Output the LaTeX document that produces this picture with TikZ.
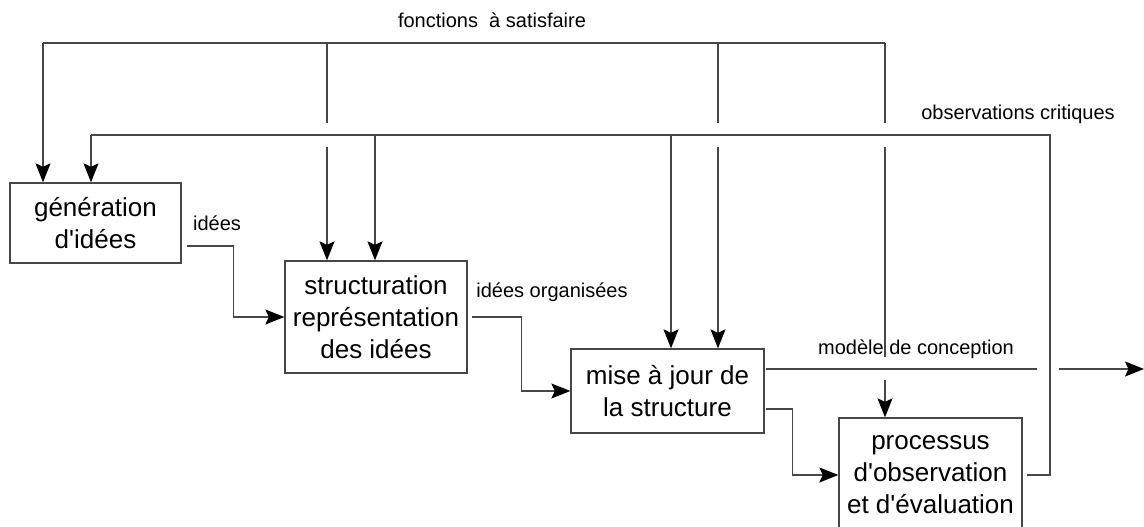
\documentclass[tikz,border=0pt]{standalone}
\usepackage{fontspec}
\setmainfont{Liberation Sans}
\usetikzlibrary{arrows.meta,calc}
\begin{document}
\begin{tikzpicture}[x=1pt,y=-1pt,
  wire/.style={draw=black!72,line width=1.3pt},
  flow/.style={wire,-{Stealth[length=19pt,width=15pt,inset=3.5pt,black]}},
  box/.style={draw=black!72,line width=1.3pt,fill=white,align=center,inner sep=0pt,
    font=\fontsize{26}{32}\selectfont},
  lab/.style={anchor=base,inner sep=0pt,font=\fontsize{20}{24}\selectfont}]
\useasboundingbox (0,0) rectangle (1144,527);
% boxes
\node[box,minimum width=171pt,minimum height=80pt] (gen) at (95.5,223) {génération\\d\textquotesingle idées};
\node[box,minimum width=182pt,minimum height=112pt] (str) at (376,317) {structuration\\représentation\\des idées};
\node[box,minimum width=193pt,minimum height=84pt] (maj) at (667.5,391) {mise à jour de\\la structure};
\node[box,minimum width=183pt,minimum height=114pt] (proc) at (930.5,475) {processus\\d\textquotesingle observation\\et d\textquotesingle évaluation};
% labels
\node[lab] (lf) at (492,28) {fonctions\ \ à satisfaire};
\node[lab] (lo) at (1018,119) {observations critiques};
\node[lab] (li) at (217,230) {idées};
\node[lab] (lio) at (552,297) {idées organisées};
\node[lab] (lm) at (916,354) {modèle de conception};
% coordinates
\coordinate (fA) at (43,43);
\coordinate (fB) at (327,43);
\coordinate (fC) at (718,43);
\coordinate (fD) at (885,43);
\coordinate (oA) at (91,135);
\coordinate (oB) at (375,135);
\coordinate (oC) at (671,135);
\coordinate (oD) at (1050,135);
\coordinate (out) at (1144,369);
% fonctions a satisfaire
\draw[wire] (fA) -- (fD);
\draw[flow] (fA) -- (fA |- gen.north);
\draw[wire] (fB) -- (327,123);
\draw[flow] (327,147) -- (fB |- str.north);
\draw[wire] (fC) -- (718,123);
\draw[flow] (718,147) -- (fC |- maj.north);
\draw[wire] (fD) -- (885,123);
\draw[wire] (885,147) -- (885,357);
\draw[flow] (885,380) -- (fD |- proc.north);
% observations critiques
\draw[wire] (proc.east) ++(4,0) -| (oD) -- (oA);
\draw[flow] (oA) -- (oA |- gen.north);
\draw[flow] (oB) -- (oB |- str.north);
\draw[flow] (oC) -- (oC |- maj.north);
% flows between boxes
\draw[flow] ([shift={(5pt,-23pt)}]gen.east) -- ++(47,0) |- (str.west);
\draw[flow] ([xshift=4pt]str.east) -- ++(50,0) |- (maj.west);
\draw[flow] ([shift={(1pt,-18pt)}]maj.east) -- ++(27,0) |- (proc.west);
\draw[wire] ([shift={(1pt,22pt)}]maj.east) -- (1037,369);
\draw[flow] (1059,369) -- (out);
\end{tikzpicture}
\end{document}
